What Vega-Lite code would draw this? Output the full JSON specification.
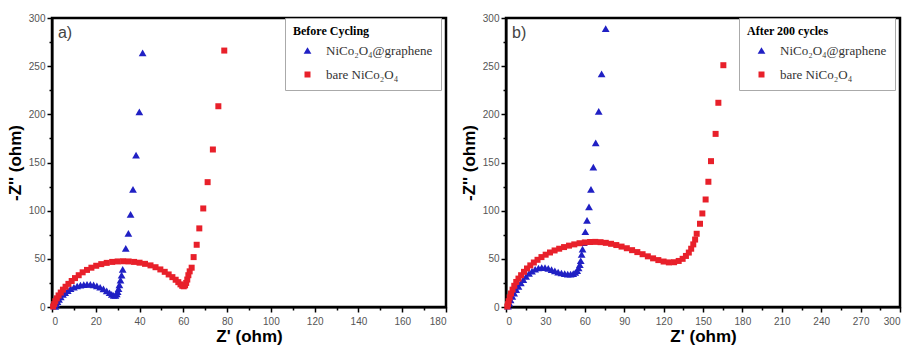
{
  "$schema": "https://vega.github.io/schema/vega-lite/v6.json",
  "background": "white",
  "padding": {"left": 5, "top": 12, "right": 4, "bottom": 2},
  "bounds": "flush",
  "spacing": 60,
  "config": {
    "view": {"stroke": "#000000", "strokeWidth": 2},
    "axis": {
      "grid": false,
      "domainColor": "black",
      "domainWidth": 2,
      "tickColor": "black",
      "tickWidth": 1.5,
      "tickSize": 5,
      "labelFont": "Liberation Sans",
      "labelFontSize": 10,
      "labelColor": "#555555",
      "labelPadding": 2,
      "titleFont": "Liberation Sans",
      "titleFontSize": 17,
      "titleFontWeight": "bold",
      "titleColor": "black"
    },
    "legend": {
      "orient": "none",
      "strokeColor": "#aaaaaa",
      "fillColor": "white",
      "padding": 8,
      "titleFont": "Liberation Serif",
      "titleFontSize": 12,
      "titleFontWeight": "bold",
      "titleColor": "black",
      "titlePadding": 6,
      "labelFont": "Liberation Serif",
      "labelFontSize": 13,
      "labelColor": "#333333",
      "labelOffset": 12,
      "symbolOffset": 8,
      "symbolSize": 45,
      "rowPadding": 10
    }
  },
  "datasets": {
    "before": [
      {"z_re": 1.5, "z_im": 0.5, "series": "NiCo₂O₄@graphene"},
      {"z_re": 2.0, "z_im": 3, "series": "NiCo₂O₄@graphene"},
      {"z_re": 2.5, "z_im": 5.5, "series": "NiCo₂O₄@graphene"},
      {"z_re": 3.2, "z_im": 8, "series": "NiCo₂O₄@graphene"},
      {"z_re": 4.0, "z_im": 10.5, "series": "NiCo₂O₄@graphene"},
      {"z_re": 5.0, "z_im": 13, "series": "NiCo₂O₄@graphene"},
      {"z_re": 6.0, "z_im": 15, "series": "NiCo₂O₄@graphene"},
      {"z_re": 7.2, "z_im": 17, "series": "NiCo₂O₄@graphene"},
      {"z_re": 8.5, "z_im": 19, "series": "NiCo₂O₄@graphene"},
      {"z_re": 10.0, "z_im": 20.5, "series": "NiCo₂O₄@graphene"},
      {"z_re": 11.5, "z_im": 21.8, "series": "NiCo₂O₄@graphene"},
      {"z_re": 13.0, "z_im": 22.7, "series": "NiCo₂O₄@graphene"},
      {"z_re": 14.5, "z_im": 23.3, "series": "NiCo₂O₄@graphene"},
      {"z_re": 16.0, "z_im": 23.6, "series": "NiCo₂O₄@graphene"},
      {"z_re": 17.5, "z_im": 23.5, "series": "NiCo₂O₄@graphene"},
      {"z_re": 19.0, "z_im": 23, "series": "NiCo₂O₄@graphene"},
      {"z_re": 20.5, "z_im": 22, "series": "NiCo₂O₄@graphene"},
      {"z_re": 22.0, "z_im": 20.5, "series": "NiCo₂O₄@graphene"},
      {"z_re": 23.5, "z_im": 18.8, "series": "NiCo₂O₄@graphene"},
      {"z_re": 25.0, "z_im": 16.8, "series": "NiCo₂O₄@graphene"},
      {"z_re": 26.3, "z_im": 14.8, "series": "NiCo₂O₄@graphene"},
      {"z_re": 27.3, "z_im": 13, "series": "NiCo₂O₄@graphene"},
      {"z_re": 28.2, "z_im": 12, "series": "NiCo₂O₄@graphene"},
      {"z_re": 29.0, "z_im": 12, "series": "NiCo₂O₄@graphene"},
      {"z_re": 29.6, "z_im": 13.5, "series": "NiCo₂O₄@graphene"},
      {"z_re": 30.0, "z_im": 16, "series": "NiCo₂O₄@graphene"},
      {"z_re": 30.4, "z_im": 19, "series": "NiCo₂O₄@graphene"},
      {"z_re": 30.8, "z_im": 23, "series": "NiCo₂O₄@graphene"},
      {"z_re": 31.3, "z_im": 28, "series": "NiCo₂O₄@graphene"},
      {"z_re": 31.8, "z_im": 33, "series": "NiCo₂O₄@graphene"},
      {"z_re": 32.3, "z_im": 39, "series": "NiCo₂O₄@graphene"},
      {"z_re": 33.7, "z_im": 60.8, "series": "NiCo₂O₄@graphene"},
      {"z_re": 34.9, "z_im": 76.4, "series": "NiCo₂O₄@graphene"},
      {"z_re": 35.9, "z_im": 96.1, "series": "NiCo₂O₄@graphene"},
      {"z_re": 37.0, "z_im": 122, "series": "NiCo₂O₄@graphene"},
      {"z_re": 38.4, "z_im": 157.6, "series": "NiCo₂O₄@graphene"},
      {"z_re": 39.9, "z_im": 202.6, "series": "NiCo₂O₄@graphene"},
      {"z_re": 41.4, "z_im": 263.7, "series": "NiCo₂O₄@graphene"},
      {"z_re": 0.5, "z_im": 0.5, "series": "bare NiCo₂O₄"},
      {"z_re": 1.0, "z_im": 3, "series": "bare NiCo₂O₄"},
      {"z_re": 1.5, "z_im": 6, "series": "bare NiCo₂O₄"},
      {"z_re": 2.2, "z_im": 9, "series": "bare NiCo₂O₄"},
      {"z_re": 3.0, "z_im": 12, "series": "bare NiCo₂O₄"},
      {"z_re": 4.0, "z_im": 15, "series": "bare NiCo₂O₄"},
      {"z_re": 5.0, "z_im": 18, "series": "bare NiCo₂O₄"},
      {"z_re": 6.2, "z_im": 21, "series": "bare NiCo₂O₄"},
      {"z_re": 7.5, "z_im": 24, "series": "bare NiCo₂O₄"},
      {"z_re": 9.0, "z_im": 27, "series": "bare NiCo₂O₄"},
      {"z_re": 10.5, "z_im": 30, "series": "bare NiCo₂O₄"},
      {"z_re": 12.2, "z_im": 33, "series": "bare NiCo₂O₄"},
      {"z_re": 14.0, "z_im": 36, "series": "bare NiCo₂O₄"},
      {"z_re": 16.0, "z_im": 38.5, "series": "bare NiCo₂O₄"},
      {"z_re": 18.0, "z_im": 40.8, "series": "bare NiCo₂O₄"},
      {"z_re": 20.2, "z_im": 42.8, "series": "bare NiCo₂O₄"},
      {"z_re": 22.5, "z_im": 44.5, "series": "bare NiCo₂O₄"},
      {"z_re": 25.0, "z_im": 45.8, "series": "bare NiCo₂O₄"},
      {"z_re": 27.5, "z_im": 46.8, "series": "bare NiCo₂O₄"},
      {"z_re": 30.0, "z_im": 47.3, "series": "bare NiCo₂O₄"},
      {"z_re": 32.5, "z_im": 47.5, "series": "bare NiCo₂O₄"},
      {"z_re": 35.0, "z_im": 47.3, "series": "bare NiCo₂O₄"},
      {"z_re": 37.5, "z_im": 46.8, "series": "bare NiCo₂O₄"},
      {"z_re": 40.0, "z_im": 46, "series": "bare NiCo₂O₄"},
      {"z_re": 42.5, "z_im": 44.8, "series": "bare NiCo₂O₄"},
      {"z_re": 45.0, "z_im": 43.2, "series": "bare NiCo₂O₄"},
      {"z_re": 47.3, "z_im": 41.3, "series": "bare NiCo₂O₄"},
      {"z_re": 49.5, "z_im": 39, "series": "bare NiCo₂O₄"},
      {"z_re": 51.5, "z_im": 36.5, "series": "bare NiCo₂O₄"},
      {"z_re": 53.3, "z_im": 33.8, "series": "bare NiCo₂O₄"},
      {"z_re": 55.0, "z_im": 31, "series": "bare NiCo₂O₄"},
      {"z_re": 56.5, "z_im": 28.3, "series": "bare NiCo₂O₄"},
      {"z_re": 57.7, "z_im": 25.8, "series": "bare NiCo₂O₄"},
      {"z_re": 58.7, "z_im": 23.5, "series": "bare NiCo₂O₄"},
      {"z_re": 59.5, "z_im": 22, "series": "bare NiCo₂O₄"},
      {"z_re": 60.2, "z_im": 21.5, "series": "bare NiCo₂O₄"},
      {"z_re": 60.8, "z_im": 22.5, "series": "bare NiCo₂O₄"},
      {"z_re": 61.3, "z_im": 25, "series": "bare NiCo₂O₄"},
      {"z_re": 61.8, "z_im": 28.5, "series": "bare NiCo₂O₄"},
      {"z_re": 62.3, "z_im": 33, "series": "bare NiCo₂O₄"},
      {"z_re": 62.9, "z_im": 37, "series": "bare NiCo₂O₄"},
      {"z_re": 63.8, "z_im": 40.8, "series": "bare NiCo₂O₄"},
      {"z_re": 64.7, "z_im": 51.8, "series": "bare NiCo₂O₄"},
      {"z_re": 66.1, "z_im": 64.6, "series": "bare NiCo₂O₄"},
      {"z_re": 67.3, "z_im": 81.6, "series": "bare NiCo₂O₄"},
      {"z_re": 69.1, "z_im": 102.3, "series": "bare NiCo₂O₄"},
      {"z_re": 71.1, "z_im": 129.6, "series": "bare NiCo₂O₄"},
      {"z_re": 73.5, "z_im": 163.5, "series": "bare NiCo₂O₄"},
      {"z_re": 76.0, "z_im": 208.4, "series": "bare NiCo₂O₄"},
      {"z_re": 78.7, "z_im": 266.2, "series": "bare NiCo₂O₄"}
    ],
    "after": [
      {"z_re": 1.5, "z_im": 1, "series": "NiCo₂O₄@graphene"},
      {"z_re": 2.5, "z_im": 4, "series": "NiCo₂O₄@graphene"},
      {"z_re": 3.5, "z_im": 7.5, "series": "NiCo₂O₄@graphene"},
      {"z_re": 4.8, "z_im": 11, "series": "NiCo₂O₄@graphene"},
      {"z_re": 6.2, "z_im": 14.5, "series": "NiCo₂O₄@graphene"},
      {"z_re": 7.8, "z_im": 18, "series": "NiCo₂O₄@graphene"},
      {"z_re": 9.5, "z_im": 21.5, "series": "NiCo₂O₄@graphene"},
      {"z_re": 11.3, "z_im": 25, "series": "NiCo₂O₄@graphene"},
      {"z_re": 13.2, "z_im": 28.5, "series": "NiCo₂O₄@graphene"},
      {"z_re": 15.3, "z_im": 31.8, "series": "NiCo₂O₄@graphene"},
      {"z_re": 17.5, "z_im": 34.8, "series": "NiCo₂O₄@graphene"},
      {"z_re": 19.8, "z_im": 37.3, "series": "NiCo₂O₄@graphene"},
      {"z_re": 22.2, "z_im": 39.2, "series": "NiCo₂O₄@graphene"},
      {"z_re": 24.7, "z_im": 40.5, "series": "NiCo₂O₄@graphene"},
      {"z_re": 27.2, "z_im": 41, "series": "NiCo₂O₄@graphene"},
      {"z_re": 29.7, "z_im": 40.8, "series": "NiCo₂O₄@graphene"},
      {"z_re": 32.2, "z_im": 40, "series": "NiCo₂O₄@graphene"},
      {"z_re": 34.7, "z_im": 38.8, "series": "NiCo₂O₄@graphene"},
      {"z_re": 37.2, "z_im": 37.5, "series": "NiCo₂O₄@graphene"},
      {"z_re": 39.7, "z_im": 36.3, "series": "NiCo₂O₄@graphene"},
      {"z_re": 42.2, "z_im": 35.3, "series": "NiCo₂O₄@graphene"},
      {"z_re": 44.7, "z_im": 34.6, "series": "NiCo₂O₄@graphene"},
      {"z_re": 47.0, "z_im": 34.2, "series": "NiCo₂O₄@graphene"},
      {"z_re": 49.2, "z_im": 34.2, "series": "NiCo₂O₄@graphene"},
      {"z_re": 51.2, "z_im": 34.7, "series": "NiCo₂O₄@graphene"},
      {"z_re": 52.8, "z_im": 35.8, "series": "NiCo₂O₄@graphene"},
      {"z_re": 54.2, "z_im": 37.8, "series": "NiCo₂O₄@graphene"},
      {"z_re": 55.3, "z_im": 40.5, "series": "NiCo₂O₄@graphene"},
      {"z_re": 56.2, "z_im": 44, "series": "NiCo₂O₄@graphene"},
      {"z_re": 56.9, "z_im": 48, "series": "NiCo₂O₄@graphene"},
      {"z_re": 57.6, "z_im": 54.6, "series": "NiCo₂O₄@graphene"},
      {"z_re": 58.3, "z_im": 60, "series": "NiCo₂O₄@graphene"},
      {"z_re": 59.1, "z_im": 66.7, "series": "NiCo₂O₄@graphene"},
      {"z_re": 60.4, "z_im": 78.1, "series": "NiCo₂O₄@graphene"},
      {"z_re": 61.7, "z_im": 89.9, "series": "NiCo₂O₄@graphene"},
      {"z_re": 63.2, "z_im": 104, "series": "NiCo₂O₄@graphene"},
      {"z_re": 64.7, "z_im": 122, "series": "NiCo₂O₄@graphene"},
      {"z_re": 66.5, "z_im": 145.2, "series": "NiCo₂O₄@graphene"},
      {"z_re": 68.3, "z_im": 170.4, "series": "NiCo₂O₄@graphene"},
      {"z_re": 70.6, "z_im": 203, "series": "NiCo₂O₄@graphene"},
      {"z_re": 72.8, "z_im": 242, "series": "NiCo₂O₄@graphene"},
      {"z_re": 75.9, "z_im": 289, "series": "NiCo₂O₄@graphene"},
      {"z_re": 1.0, "z_im": 0.5, "series": "bare NiCo₂O₄"},
      {"z_re": 1.5, "z_im": 3, "series": "bare NiCo₂O₄"},
      {"z_re": 2.0, "z_im": 6, "series": "bare NiCo₂O₄"},
      {"z_re": 2.8, "z_im": 10, "series": "bare NiCo₂O₄"},
      {"z_re": 3.8, "z_im": 14, "series": "bare NiCo₂O₄"},
      {"z_re": 5.0, "z_im": 18, "series": "bare NiCo₂O₄"},
      {"z_re": 6.3, "z_im": 22, "series": "bare NiCo₂O₄"},
      {"z_re": 7.8, "z_im": 26, "series": "bare NiCo₂O₄"},
      {"z_re": 9.5, "z_im": 29.5, "series": "bare NiCo₂O₄"},
      {"z_re": 11.5, "z_im": 33, "series": "bare NiCo₂O₄"},
      {"z_re": 13.7, "z_im": 36.5, "series": "bare NiCo₂O₄"},
      {"z_re": 16.0, "z_im": 40, "series": "bare NiCo₂O₄"},
      {"z_re": 18.5, "z_im": 43.2, "series": "bare NiCo₂O₄"},
      {"z_re": 21.2, "z_im": 46.2, "series": "bare NiCo₂O₄"},
      {"z_re": 24.0, "z_im": 49, "series": "bare NiCo₂O₄"},
      {"z_re": 27.0, "z_im": 51.8, "series": "bare NiCo₂O₄"},
      {"z_re": 30.2, "z_im": 54.3, "series": "bare NiCo₂O₄"},
      {"z_re": 33.5, "z_im": 56.6, "series": "bare NiCo₂O₄"},
      {"z_re": 37.0, "z_im": 58.7, "series": "bare NiCo₂O₄"},
      {"z_re": 40.5, "z_im": 60.5, "series": "bare NiCo₂O₄"},
      {"z_re": 44.2, "z_im": 62.2, "series": "bare NiCo₂O₄"},
      {"z_re": 48.0, "z_im": 63.7, "series": "bare NiCo₂O₄"},
      {"z_re": 52.0, "z_im": 65, "series": "bare NiCo₂O₄"},
      {"z_re": 56.0, "z_im": 66.2, "series": "bare NiCo₂O₄"},
      {"z_re": 60.0, "z_im": 67, "series": "bare NiCo₂O₄"},
      {"z_re": 64.0, "z_im": 67.5, "series": "bare NiCo₂O₄"},
      {"z_re": 68.0, "z_im": 67.6, "series": "bare NiCo₂O₄"},
      {"z_re": 72.0, "z_im": 67.3, "series": "bare NiCo₂O₄"},
      {"z_re": 76.0, "z_im": 66.6, "series": "bare NiCo₂O₄"},
      {"z_re": 80.0, "z_im": 65.6, "series": "bare NiCo₂O₄"},
      {"z_re": 84.0, "z_im": 64.3, "series": "bare NiCo₂O₄"},
      {"z_re": 88.0, "z_im": 62.7, "series": "bare NiCo₂O₄"},
      {"z_re": 92.0, "z_im": 61, "series": "bare NiCo₂O₄"},
      {"z_re": 96.0, "z_im": 59, "series": "bare NiCo₂O₄"},
      {"z_re": 100.0, "z_im": 57, "series": "bare NiCo₂O₄"},
      {"z_re": 104.0, "z_im": 54.8, "series": "bare NiCo₂O₄"},
      {"z_re": 108.0, "z_im": 52.6, "series": "bare NiCo₂O₄"},
      {"z_re": 112.0, "z_im": 50.5, "series": "bare NiCo₂O₄"},
      {"z_re": 116.0, "z_im": 48.7, "series": "bare NiCo₂O₄"},
      {"z_re": 120.0, "z_im": 47.2, "series": "bare NiCo₂O₄"},
      {"z_re": 124.0, "z_im": 46.3, "series": "bare NiCo₂O₄"},
      {"z_re": 128.0, "z_im": 46.5, "series": "bare NiCo₂O₄"},
      {"z_re": 131.5, "z_im": 47.8, "series": "bare NiCo₂O₄"},
      {"z_re": 134.5, "z_im": 50, "series": "bare NiCo₂O₄"},
      {"z_re": 137.0, "z_im": 53, "series": "bare NiCo₂O₄"},
      {"z_re": 139.2, "z_im": 56.5, "series": "bare NiCo₂O₄"},
      {"z_re": 141.0, "z_im": 60.5, "series": "bare NiCo₂O₄"},
      {"z_re": 142.6, "z_im": 65, "series": "bare NiCo₂O₄"},
      {"z_re": 144.0, "z_im": 70, "series": "bare NiCo₂O₄"},
      {"z_re": 145.2, "z_im": 76, "series": "bare NiCo₂O₄"},
      {"z_re": 147.7, "z_im": 86.4, "series": "bare NiCo₂O₄"},
      {"z_re": 149.5, "z_im": 97.1, "series": "bare NiCo₂O₄"},
      {"z_re": 152.0, "z_im": 111.6, "series": "bare NiCo₂O₄"},
      {"z_re": 154.1, "z_im": 130, "series": "bare NiCo₂O₄"},
      {"z_re": 156.1, "z_im": 151.4, "series": "bare NiCo₂O₄"},
      {"z_re": 159.6, "z_im": 179.7, "series": "bare NiCo₂O₄"},
      {"z_re": 161.7, "z_im": 212, "series": "bare NiCo₂O₄"},
      {"z_re": 165.5, "z_im": 251, "series": "bare NiCo₂O₄"}
    ]
  },
  "resolve": {
    "scale": {"x": "independent", "y": "independent", "color": "independent", "shape": "independent", "size": "independent"},
    "legend": {"color": "independent", "shape": "independent"}
  },
  "hconcat": [
    {
      "width": 394,
      "height": 289,
      "resolve": {"axis": {"x": "independent", "y": "independent"}},
      "layer": [
        {
          "data": {"values": [{"frame": "plot"}]},
          "mark": {"type": "rect", "fill": null, "fillOpacity": 0, "stroke": "#000000", "strokeWidth": 2.5},
          "encoding": {
            "x": {"datum": 0, "type": "quantitative", "axis": null},
            "x2": {"datum": 180},
            "y": {"datum": 0, "type": "quantitative", "axis": null},
            "y2": {"datum": 300}
          }
        },
        {
          "data": {"name": "before"},
          "mark": {"type": "point", "filled": true, "opacity": 1},
          "encoding": {
            "x": {
              "field": "z_re", "type": "quantitative",
              "scale": {"domain": [0, 180], "nice": false, "zero": false},
              "axis": {"orient": "bottom", "title": "Z' (ohm)", "values": [0, 20, 40, 60, 80, 100, 120, 140, 160, 180], "labelPadding": 4, "titlePadding": 2}
            },
            "y": {
              "field": "z_im", "type": "quantitative",
              "scale": {"domain": [0, 300], "nice": false, "zero": false},
              "axis": {"orient": "left", "title": "-Z'' (ohm)", "values": [0, 50, 100, 150, 200, 250, 300], "titlePadding": 4}
            },
            "color": {
              "field": "series", "type": "nominal",
              "scale": {"domain": ["NiCo₂O₄@graphene", "bare NiCo₂O₄"], "range": ["#2020c4", "#e8202a"]},
              "legend": {"title": "Before Cycling", "legendX": 233, "legendY": 0}
            },
            "shape": {
              "field": "series", "type": "nominal",
              "scale": {"domain": ["NiCo₂O₄@graphene", "bare NiCo₂O₄"], "range": ["triangle-up", "square"]},
              "legend": {"title": "Before Cycling", "legendX": 233, "legendY": 0}
            },
            "size": {
              "field": "series", "type": "nominal",
              "scale": {"domain": ["NiCo₂O₄@graphene", "bare NiCo₂O₄"], "range": [60, 36]},
              "legend": null
            }
          }
        },
        {
          "data": {"values": [{"panel": "a)"}]},
          "mark": {"type": "text", "align": "left", "baseline": "middle", "font": "Liberation Sans", "fontSize": 16, "color": "#444444"},
          "encoding": {
            "text": {"field": "panel"},
            "x": {
              "datum": 2.7, "type": "quantitative",
              "axis": {"orient": "bottom", "title": null, "labels": false, "domain": false, "tickSize": 3, "values": [10, 30, 50, 70, 90, 110, 130, 150, 170]}
            },
            "y": {
              "datum": 284, "type": "quantitative",
              "axis": {"orient": "left", "title": null, "labels": false, "domain": false, "tickSize": 3, "values": [25, 75, 125, 175, 225, 275]}
            }
          }
        }
      ]
    },
    {
      "width": 394,
      "height": 289,
      "resolve": {"axis": {"x": "independent", "y": "independent"}},
      "layer": [
        {
          "data": {"values": [{"frame": "plot"}]},
          "mark": {"type": "rect", "fill": null, "fillOpacity": 0, "stroke": "#000000", "strokeWidth": 2.5},
          "encoding": {
            "x": {"datum": 0, "type": "quantitative", "axis": null},
            "x2": {"datum": 300},
            "y": {"datum": 0, "type": "quantitative", "axis": null},
            "y2": {"datum": 300}
          }
        },
        {
          "data": {"name": "after"},
          "mark": {"type": "point", "filled": true, "opacity": 1},
          "encoding": {
            "x": {
              "field": "z_re", "type": "quantitative",
              "scale": {"domain": [0, 300], "nice": false, "zero": false},
              "axis": {"orient": "bottom", "title": "Z' (ohm)", "values": [0, 30, 60, 90, 120, 150, 180, 210, 240, 270, 300], "labelPadding": 4, "titlePadding": 2}
            },
            "y": {
              "field": "z_im", "type": "quantitative",
              "scale": {"domain": [0, 300], "nice": false, "zero": false},
              "axis": {"orient": "left", "title": "-Z'' (ohm)", "values": [0, 50, 100, 150, 200, 250, 300], "titlePadding": 4}
            },
            "color": {
              "field": "series", "type": "nominal",
              "scale": {"domain": ["NiCo₂O₄@graphene", "bare NiCo₂O₄"], "range": ["#2020c4", "#e8202a"]},
              "legend": {"title": "After 200 cycles", "legendX": 233, "legendY": 0}
            },
            "shape": {
              "field": "series", "type": "nominal",
              "scale": {"domain": ["NiCo₂O₄@graphene", "bare NiCo₂O₄"], "range": ["triangle-up", "square"]},
              "legend": {"title": "After 200 cycles", "legendX": 233, "legendY": 0}
            },
            "size": {
              "field": "series", "type": "nominal",
              "scale": {"domain": ["NiCo₂O₄@graphene", "bare NiCo₂O₄"], "range": [60, 36]},
              "legend": null
            }
          }
        },
        {
          "data": {"values": [{"panel": "b)"}]},
          "mark": {"type": "text", "align": "left", "baseline": "middle", "font": "Liberation Sans", "fontSize": 16, "color": "#444444"},
          "encoding": {
            "text": {"field": "panel"},
            "x": {
              "datum": 4.6, "type": "quantitative",
              "axis": {"orient": "bottom", "title": null, "labels": false, "domain": false, "tickSize": 3, "values": [15, 45, 75, 105, 135, 165, 195, 225, 255, 285]}
            },
            "y": {
              "datum": 284, "type": "quantitative",
              "axis": {"orient": "left", "title": null, "labels": false, "domain": false, "tickSize": 3, "values": [25, 75, 125, 175, 225, 275]}
            }
          }
        }
      ]
    }
  ]
}
